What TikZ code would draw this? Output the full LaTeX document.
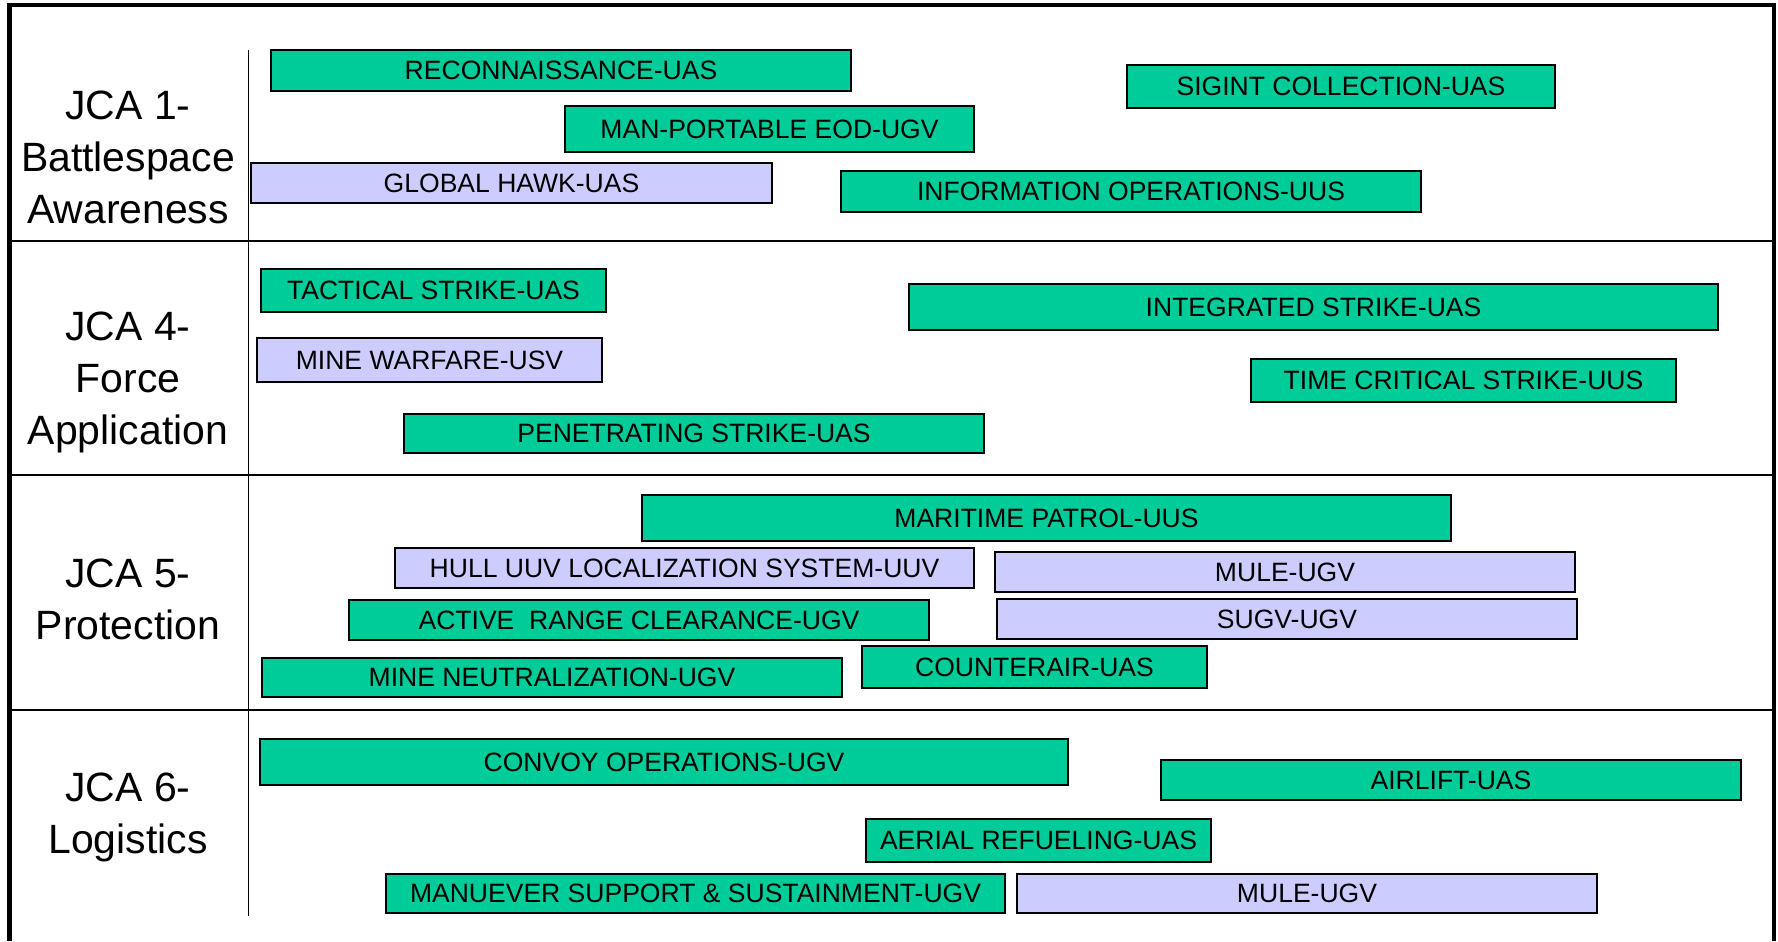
\documentclass[tikz,border=0pt]{standalone}
\usepackage{fontspec}
\setmainfont{Liberation Sans}
\usepackage{xcolor}
\definecolor{BarGreen}{HTML}{00CC99}
\definecolor{BarLavender}{HTML}{CCCCFF}
\newcommand{\barunit}{0.02cm}
\tikzset{
    % Bar styles - flat, thin black outline
    greenbar/.style={
        rectangle,
        draw=black,
        fill=BarGreen,
        line width=0.8pt,
        inner sep=0pt,
        align=center,
        font=\fontsize{15.1pt}{18pt}\selectfont
    },
    lavenderbar/.style={
        greenbar,
        fill=BarLavender
    },
    % bar size, in picture units
    size/.style 2 args={
        minimum width=#1*\barunit,
        minimum height=#2*\barunit
    },
    % Row label on the left
    capability/.style={
        align=center,
        inner sep=0pt,
        font=\fontsize{23.3pt}{29.6pt}\selectfont
    },
    % Lines of the table
    frame/.style={
        line width=2.8pt,
        draw=black
    },
    rowline/.style={
        line width=1.4pt,
        draw=black
    },
    colline/.style={
        line width=0.9pt,
        draw=black
    }
}

\begin{document}
\begin{tikzpicture}[x=0.02cm, y=-0.02cm]
    \useasboundingbox (0,0) rectangle (1778,941);

    % table
    \draw[frame] (9.5,941) -- (9.5,5) -- (1774,5) -- (1774,941);
    \draw[rowline] (9.5,241) -- (1774,241);
    \draw[rowline] (9.5,475) -- (1774,475);
    \draw[rowline] (9.5,710) -- (1774,710);
    \draw[colline] (248.5,50) -- (248.5,916);

    % row labels
    \node[capability] (jca1) at (128,157) {JCA 1-\\Battlespace\\Awareness};
    \node[capability] (jca4) at (128,382) {JCA 4-\\Force\\Application};
    \node[capability] (jca5) at (128,599) {JCA 5-\\Protection};
    \node[capability] (jca6) at (128,817) {JCA 6-\\Logistics};

    % JCA 1
    \node[greenbar, size={580}{41}] (recon) at (561,70.5) {RECONNAISSANCE-UAS};
    \node[greenbar, size={409}{46}] (eod) at (769.5,129) {MAN-PORTABLE EOD-UGV};
    \node[lavenderbar, size={521}{40}] (hawk) at (511.5,183) {GLOBAL HAWK-UAS};
    \node[greenbar, size={428}{43}] (sigint) at (1341,86.5) {SIGINT COLLECTION-UAS};
    \node[greenbar, size={580}{41}] (infoops) at (1131,191.5) {INFORMATION OPERATIONS-UUS};

    % JCA 4
    \node[greenbar, size={345}{43}] (tactical) at (433.5,290.5) {TACTICAL STRIKE-UAS};
    \node[lavenderbar, size={345}{44}] (minewar) at (429.5,360) {MINE WARFARE-USV};
    \node[greenbar, size={580}{39}] (penetrate) at (694,433.5) {PENETRATING STRIKE-UAS};
    \node[greenbar, size={809}{46}] (integrated) at (1313.5,307) {INTEGRATED STRIKE-UAS};
    \node[greenbar, size={425}{43}] (timecrit) at (1463.5,380.5) {TIME CRITICAL STRIKE-UUS};

    % JCA 5
    \node[greenbar, size={809}{46}] (maritime) at (1046.5,518) {MARITIME PATROL-UUS};
    \node[lavenderbar, size={579}{40}] (hull) at (684.5,568) {HULL UUV LOCALIZATION SYSTEM-UUV};
    \node[lavenderbar, size={580}{40}] (muleA) at (1285,572) {MULE-UGV};
    \node[greenbar, size={580}{40}] (range) at (639,620) {ACTIVE\ \ RANGE CLEARANCE-UGV};
    \node[lavenderbar, size={580}{40}] (sugv) at (1287,619) {SUGV-UGV};
    \node[greenbar, size={580}{39}] (mineneut) at (552,677.5) {MINE NEUTRALIZATION-UGV};
    \node[greenbar, size={345}{42}] (counterair) at (1034.5,667) {COUNTERAIR-UAS};

    % JCA 6
    \node[greenbar, size={808}{46}] (convoy) at (664,762) {CONVOY OPERATIONS-UGV};
    \node[greenbar, size={580}{40}] (airlift) at (1451,780) {AIRLIFT-UAS};
    \node[greenbar, size={345}{43}] (refuel) at (1038.5,840.5) {AERIAL REFUELING-UAS};
    \node[greenbar, size={619}{39}] (sustain) at (695.5,893.5) {MANUEVER SUPPORT \& SUSTAINMENT-UGV};
    \node[lavenderbar, size={580}{39}] (muleB) at (1307,893.5) {MULE-UGV};
\end{tikzpicture}
\end{document}
